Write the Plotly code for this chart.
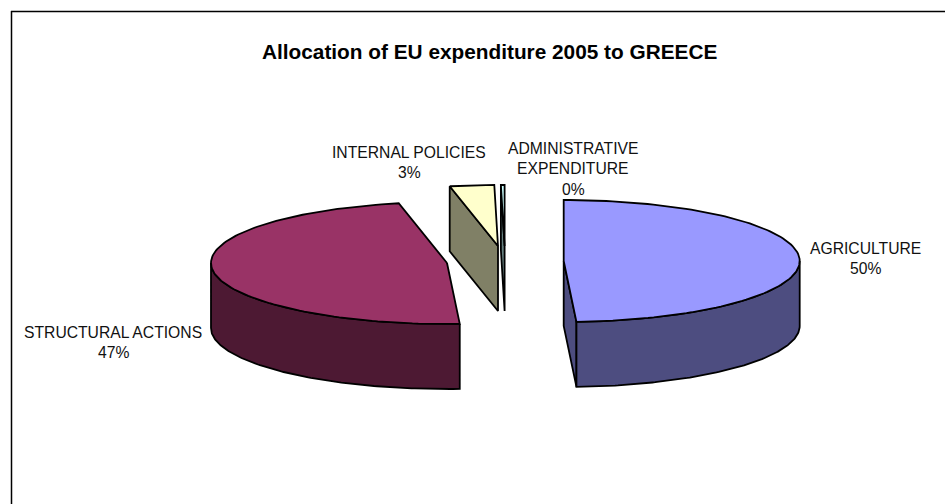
import numpy as np
import plotly.graph_objects as go

# Data
categories = ["AGRICULTURE", "STRUCTURAL ACTIONS", "INTERNAL POLICIES", "ADMINISTRATIVE EXPENDITURE"]
shares = [49.14, 47.58, 3.03, 0.25]
percent_labels = ["50%", "47%", "3%", "0%"]
title_text = "Allocation of EU expenditure 2005 to GREECE"

# Styling / layout
top_colors = ["#9999FF", "#993366", "#FFFFCC", "#CCFFFF"]
side_colors = ["#4D4D80", "#4D1933", "#808066", "#668080"]
centers = [(563.7, 261), (447, 263), (498, 246), (504.6, 246)]
RX, RY, DEPTH = 236, 61, 65
label_lines = [
    [("AGRICULTURE", 865, 248), ("50%", 865, 268)],
    [("STRUCTURAL ACTIONS", 113, 332), ("47%", 113, 352)],
    [("INTERNAL POLICIES", 409, 152), ("3%", 409, 172.5)],
    [("ADMINISTRATIVE", 573, 148), ("EXPENDITURE", 573, 168), ("0%", 573, 189)],
]

fig = go.Figure()


def poly(xs, ys, color):
    fig.add_trace(go.Scatter(x=xs, y=ys, mode="lines", fill="toself", fillcolor=color,
                             line=dict(color="black", width=1.8), hoverinfo="skip", showlegend=False))


def rim(cx, cy, t0, t1, n=120):
    t = np.radians(np.linspace(t0, t1, n))
    return cx + RX * np.sin(t), cy - RY * np.cos(t)


def cut_face(cx, cy, t, color):
    ex, ey = rim(cx, cy, t, t, 1)
    poly([cx, ex[0], ex[0], cx, cx], [cy, ey[0], ey[0] + DEPTH, cy + DEPTH, cy], color)


edges = np.cumsum([0] + shares) / sum(shares) * 360
for i in range(len(shares)):
    t0, t1 = edges[i], edges[i + 1]
    cx, cy = centers[i]
    if np.sin(np.radians(t0)) < -1e-6:
        cut_face(cx, cy, t0, side_colors[i])
    if np.sin(np.radians(t1)) > 1e-6:
        cut_face(cx, cy, t1, side_colors[i])
    a, b = max(t0, 90), min(t1, 270)
    if b > a:
        x, y = rim(cx, cy, a, b)
        poly(np.r_[x, x[::-1], x[0]], np.r_[y, y[::-1] + DEPTH, y[0]], side_colors[i])
    x, y = rim(cx, cy, t0, t1)
    poly(np.r_[cx, x, cx], np.r_[cy, y, cy], top_colors[i])

annotations = [dict(x=489, y=51, text="<b>%s</b>" % title_text, showarrow=False,
                    font=dict(size=20.8, color="black"))]
for lines in label_lines:
    for text, x, y in lines:
        annotations.append(dict(x=x, y=y, text=text, showarrow=False,
                                font=dict(size=15.7, color="#111111")))

fig.update_layout(
    width=945, height=504, margin=dict(l=0, r=0, t=0, b=0), autosize=False,
    paper_bgcolor="white", plot_bgcolor="white", showlegend=False,
    font=dict(family="Liberation Sans, Arial, sans-serif"),
    xaxis=dict(range=[0, 945], visible=False, fixedrange=True),
    yaxis=dict(range=[504, 0], visible=False, fixedrange=True),
    annotations=annotations,
    shapes=[
        dict(type="line", x0=11, x1=945, y0=11.5, y1=11.5, line=dict(color="black", width=1.5)),
        dict(type="line", x0=11.5, x1=11.5, y0=11, y1=504, line=dict(color="black", width=1.5)),
    ],
)
fig.write_html("out.html", config={"displayModeBar": False},
               post_script="document.body.style.margin='0';document.body.style.overflow='hidden';")
